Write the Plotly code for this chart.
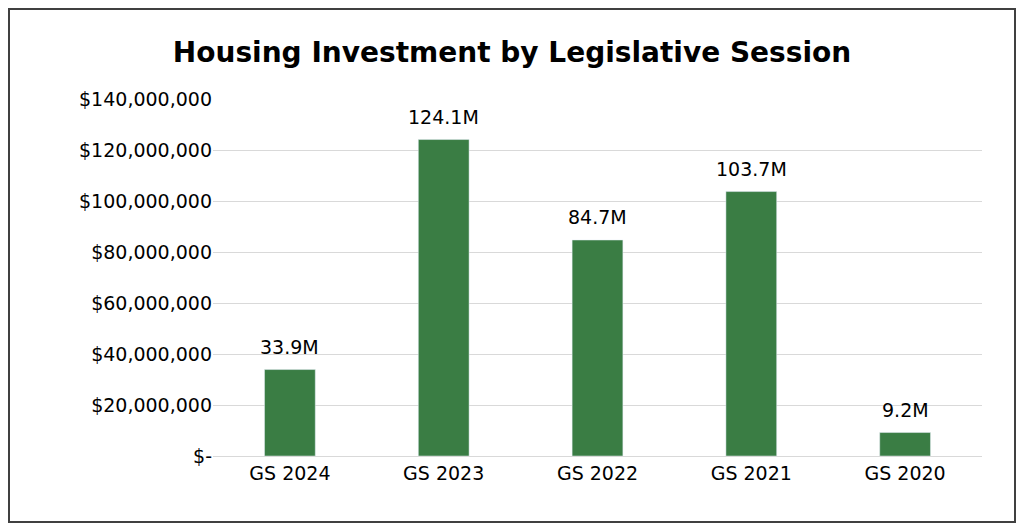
import plotly.graph_objects as go

sessions = ["GS 2024", "GS 2023", "GS 2022", "GS 2021", "GS 2020"]
investment = [33.9e6, 124.1e6, 84.7e6, 103.7e6, 9.2e6]
bar_labels = ["33.9M", "124.1M", "84.7M", "103.7M", "9.2M"]
tick_values = [0, 20e6, 40e6, 60e6, 80e6, 100e6, 120e6, 140e6]
tick_labels = ["$-", "$20,000,000", "$40,000,000", "$60,000,000", "$80,000,000",
               "$100,000,000", "$120,000,000", "$140,000,000"]

font_family = "DejaVu Sans, Verdana, sans-serif"

# page has an 8px body margin, so keep the figure inside the window
fig_w, fig_h = 1008, 515
left, right, top, bottom = 205, 34, 91, 67
plot_w = fig_w - left - right
plot_h = fig_h - top - bottom

fig = go.Figure(
    go.Bar(
        x=sessions,
        y=investment,
        marker_color="#3A7D44",
    )
)

for session, value, label in zip(sessions, investment, bar_labels):
    fig.add_annotation(
        x=session, y=value, text=label, showarrow=False,
        yanchor="bottom", yshift=10, font={"size": 19, "color": "#000000"},
    )

fig.update_layout(
    width=fig_w,
    height=fig_h,
    margin={"l": left, "r": right, "t": top, "b": bottom},
    paper_bgcolor="white",
    plot_bgcolor="white",
    bargap=0.67,
    font={"family": font_family, "size": 19, "color": "#000000"},
    title={
        "text": "<b>Housing Investment by Legislative Session</b>",
        "font": {"size": 28, "family": font_family},
        "x": 0.5,
        "xanchor": "center",
        "y": 0.915,
        "yanchor": "middle",
    },
    xaxis={"showline": True, "linecolor": "#d9d9d9", "ticks": "", "tickfont": {"size": 19}},
    yaxis={
        "range": [0, 140e6],
        "tickvals": tick_values,
        "ticktext": tick_labels,
        "gridcolor": "#d9d9d9",
        "zeroline": False,
        "ticks": "",
        "tickfont": {"size": 19},
    },
    showlegend=False,
    shapes=[
        {
            "type": "rect",
            "xref": "paper",
            "yref": "paper",
            "x0": -(left - 1) / plot_w,
            "x1": (fig_w - left - 1) / plot_w,
            "y0": -(bottom - 1) / plot_h,
            "y1": (fig_h - bottom - 1) / plot_h,
            "line": {"color": "#404040", "width": 2},
        }
    ],
)

fig.write_html("out.html")
